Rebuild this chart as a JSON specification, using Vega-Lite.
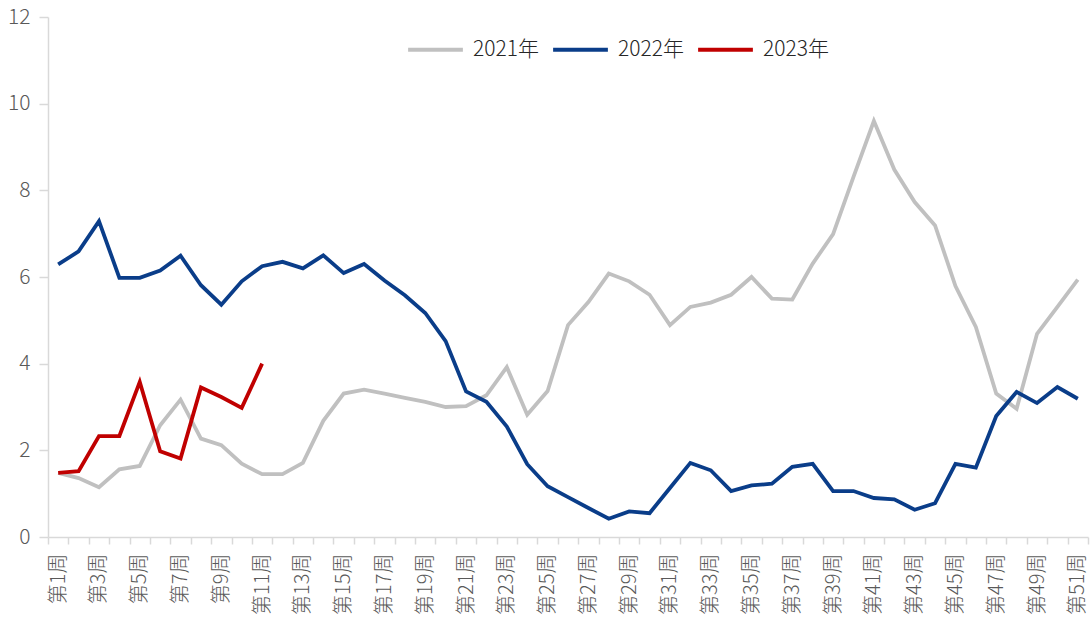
{
  "$schema": "https://vega.github.io/schema/vega-lite/v6.json",
  "autosize": {"type": "none"},
  "width": 1040,
  "height": 520,
  "padding": {"left": 48, "top": 17, "right": 3, "bottom": 84},
  "background": "white",
  "config": {"view": {"stroke": null}, "font": "Noto Sans CJK SC"},
  "data": {"values": [
    {"w":1,"s":"2021年","v":1.48},{"w":2,"s":"2021年","v":1.36},{"w":3,"s":"2021年","v":1.15},{"w":4,"s":"2021年","v":1.56},{"w":5,"s":"2021年","v":1.64},{"w":6,"s":"2021年","v":2.58},{"w":7,"s":"2021年","v":3.17},{"w":8,"s":"2021年","v":2.27},{"w":9,"s":"2021年","v":2.12},{"w":10,"s":"2021年","v":1.69},
    {"w":11,"s":"2021年","v":1.45},{"w":12,"s":"2021年","v":1.45},{"w":13,"s":"2021年","v":1.71},{"w":14,"s":"2021年","v":2.68},{"w":15,"s":"2021年","v":3.31},{"w":16,"s":"2021年","v":3.40},{"w":17,"s":"2021年","v":3.31},{"w":18,"s":"2021年","v":3.21},{"w":19,"s":"2021年","v":3.12},{"w":20,"s":"2021年","v":3.00},
    {"w":21,"s":"2021年","v":3.02},{"w":22,"s":"2021年","v":3.27},{"w":23,"s":"2021年","v":3.92},{"w":24,"s":"2021年","v":2.82},{"w":25,"s":"2021年","v":3.37},{"w":26,"s":"2021年","v":4.89},{"w":27,"s":"2021年","v":5.42},{"w":28,"s":"2021年","v":6.08},{"w":29,"s":"2021年","v":5.90},{"w":30,"s":"2021年","v":5.59},
    {"w":31,"s":"2021年","v":4.89},{"w":32,"s":"2021年","v":5.31},{"w":33,"s":"2021年","v":5.41},{"w":34,"s":"2021年","v":5.59},{"w":35,"s":"2021年","v":6.00},{"w":36,"s":"2021年","v":5.50},{"w":37,"s":"2021年","v":5.48},{"w":38,"s":"2021年","v":6.31},{"w":39,"s":"2021年","v":6.99},{"w":40,"s":"2021年","v":8.31},
    {"w":41,"s":"2021年","v":9.60},{"w":42,"s":"2021年","v":8.48},{"w":43,"s":"2021年","v":7.73},{"w":44,"s":"2021年","v":7.19},{"w":45,"s":"2021年","v":5.79},{"w":46,"s":"2021年","v":4.85},{"w":47,"s":"2021年","v":3.31},{"w":48,"s":"2021年","v":2.96},{"w":49,"s":"2021年","v":4.69},{"w":50,"s":"2021年","v":5.31},{"w":51,"s":"2021年","v":5.94},
    {"w":1,"s":"2022年","v":6.29},{"w":2,"s":"2022年","v":6.59},{"w":3,"s":"2022年","v":7.29},{"w":4,"s":"2022年","v":5.98},{"w":5,"s":"2022年","v":5.98},{"w":6,"s":"2022年","v":6.15},{"w":7,"s":"2022年","v":6.49},{"w":8,"s":"2022年","v":5.81},{"w":9,"s":"2022年","v":5.36},{"w":10,"s":"2022年","v":5.90},
    {"w":11,"s":"2022年","v":6.25},{"w":12,"s":"2022年","v":6.35},{"w":13,"s":"2022年","v":6.20},{"w":14,"s":"2022年","v":6.50},{"w":15,"s":"2022年","v":6.09},{"w":16,"s":"2022年","v":6.30},{"w":17,"s":"2022年","v":5.92},{"w":18,"s":"2022年","v":5.58},{"w":19,"s":"2022年","v":5.17},{"w":20,"s":"2022年","v":4.52},
    {"w":21,"s":"2022年","v":3.36},{"w":22,"s":"2022年","v":3.12},{"w":23,"s":"2022年","v":2.55},{"w":24,"s":"2022年","v":1.68},{"w":25,"s":"2022年","v":1.17},{"w":26,"s":"2022年","v":0.92},{"w":27,"s":"2022年","v":0.67},{"w":28,"s":"2022年","v":0.42},{"w":29,"s":"2022年","v":0.59},{"w":30,"s":"2022年","v":0.55},
    {"w":31,"s":"2022年","v":1.13},{"w":32,"s":"2022年","v":1.71},{"w":33,"s":"2022年","v":1.54},{"w":34,"s":"2022年","v":1.06},{"w":35,"s":"2022年","v":1.19},{"w":36,"s":"2022年","v":1.23},{"w":37,"s":"2022年","v":1.62},{"w":38,"s":"2022年","v":1.69},{"w":39,"s":"2022年","v":1.06},{"w":40,"s":"2022年","v":1.06},
    {"w":41,"s":"2022年","v":0.90},{"w":42,"s":"2022年","v":0.87},{"w":43,"s":"2022年","v":0.63},{"w":44,"s":"2022年","v":0.78},{"w":45,"s":"2022年","v":1.69},{"w":46,"s":"2022年","v":1.60},{"w":47,"s":"2022年","v":2.79},{"w":48,"s":"2022年","v":3.35},{"w":49,"s":"2022年","v":3.09},{"w":50,"s":"2022年","v":3.46},{"w":51,"s":"2022年","v":3.19},
    {"w":1,"s":"2023年","v":1.48},{"w":2,"s":"2023年","v":1.52},{"w":3,"s":"2023年","v":2.33},{"w":4,"s":"2023年","v":2.33},{"w":5,"s":"2023年","v":3.58},{"w":6,"s":"2023年","v":1.98},{"w":7,"s":"2023年","v":1.81},{"w":8,"s":"2023年","v":3.45},{"w":9,"s":"2023年","v":3.23},{"w":10,"s":"2023年","v":2.98},{"w":11,"s":"2023年","v":4.00}
  ]},
  "mark": {"type": "line", "strokeWidth": 3.8, "strokeJoin": "miter", "strokeCap": "butt"},
  "encoding": {
    "x": {
      "field": "w", "type": "ordinal", "bandPosition": 0.5,
      "scale": {"type": "band", "paddingInner": 0, "paddingOuter": 0},
      "axis": {
        "title": null, "tickBand": "extent", "labelOverlap": false,
        "labelExpr": "datum.value % 2 == 1 ? '第' + datum.value + '周' : ''",
        "labelAngle": -90, "labelAlign": "right", "labelBaseline": "middle",
        "labelFontSize": 20, "labelColor": "#595959", "labelFontWeight": 300,
        "labelPadding": 9,
        "domainColor": "#d9d9d9", "domainWidth": 1.5, "tickColor": "#d9d9d9", "tickWidth": 1.5, "tickSize": 7
      }
    },
    "y": {
      "field": "v", "type": "quantitative",
      "scale": {"domain": [0, 12], "nice": false},
      "axis": {
        "title": null, "grid": false, "values": [0, 2, 4, 6, 8, 10, 12],
        "labelFontSize": 21, "labelColor": "#595959", "labelFontWeight": 300, "labelPadding": 9,
        "domainColor": "#d9d9d9", "domainWidth": 1.5, "tickColor": "#d9d9d9", "tickWidth": 1.5, "tickSize": 9
      }
    },
    "color": {
      "field": "s", "type": "nominal",
      "scale": {"domain": ["2021年", "2022年", "2023年"], "range": ["#c0c0c0", "#0a3d89", "#c00000"]},
      "legend": {
        "title": null, "orient": "none", "direction": "horizontal",
        "legendX": 358, "legendY": 3,
        "symbolType": "stroke", "symbolSize": 3000, "symbolStrokeWidth": 4,
        "labelFontSize": 21, "labelColor": "#262626", "labelFontWeight": 300,
        "columnPadding": 6, "labelOffset": 8
      }
    }
  }
}
